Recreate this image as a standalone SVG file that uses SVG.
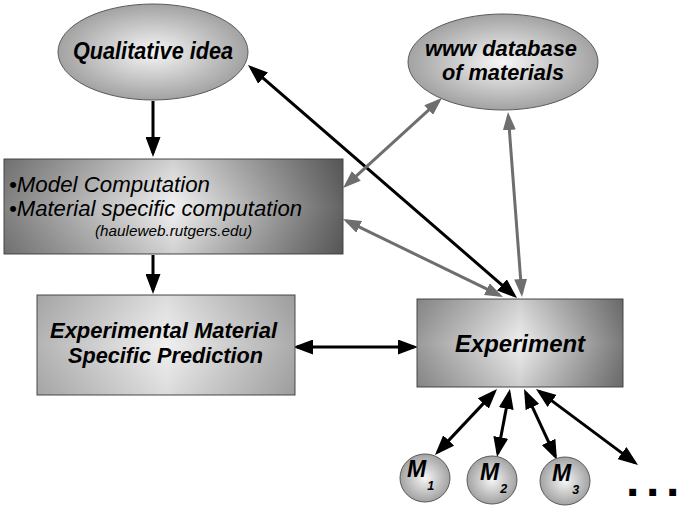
<svg xmlns="http://www.w3.org/2000/svg" width="680" height="513" viewBox="0 0 680 513">
  <defs>
    <style>
      .lbl { font-family: "Liberation Sans", Arial, sans-serif; font-weight: bold; font-style: italic; fill: #000; }
      .plain { font-family: "Liberation Sans", Arial, sans-serif; font-style: italic; fill: #000; }
      .oval { stroke: #5a5a5a; stroke-width: 1; }
      .box { stroke: #4a4a4a; stroke-width: 1; }
      .blk { fill: none; stroke: #000; stroke-width: 3; }
      .gry { fill: none; stroke: #6e6e6e; stroke-width: 3; }
    </style>
    <radialGradient id="ovalFill" cx="50%" cy="50%" r="55%">
      <stop offset="0" stop-color="#f6f6f6"/>
      <stop offset="1" stop-color="#9a9a9a"/>
    </radialGradient>
    <!-- side-to-side shading of the boxes -->
    <linearGradient id="darkBox" x1="0" y1="0" x2="1" y2="0">
      <stop offset="0" stop-color="#828282"/>
      <stop offset="0.5" stop-color="#f2f2f2"/>
      <stop offset="1" stop-color="#636363"/>
    </linearGradient>
    <linearGradient id="lightBox" x1="0" y1="0" x2="1" y2="0">
      <stop offset="0" stop-color="#b4b4b4"/>
      <stop offset="0.5" stop-color="#f0f0f0"/>
      <stop offset="1" stop-color="#ababab"/>
    </linearGradient>
    <linearGradient id="expBox" x1="0" y1="0" x2="1" y2="0">
      <stop offset="0" stop-color="#9a9a9a"/>
      <stop offset="0.5" stop-color="#eeeeee"/>
      <stop offset="1" stop-color="#7a7a7a"/>
    </linearGradient>
    <!-- top/bottom darkening laid over the boxes -->
    <linearGradient id="vShade" x1="0" y1="0" x2="0" y2="1">
      <stop offset="0" stop-color="#000" stop-opacity="0.14"/>
      <stop offset="0.5" stop-color="#000" stop-opacity="0"/>
      <stop offset="1" stop-color="#000" stop-opacity="0.14"/>
    </linearGradient>
    <marker id="headB" viewBox="0 0 20 15" refX="16" refY="7.5" markerWidth="20" markerHeight="15" markerUnits="userSpaceOnUse" orient="auto-start-reverse">
      <path d="M0,0 L20,7.5 L0,15 z" fill="#000"/>
    </marker>
    <marker id="headG" viewBox="0 0 18 13" refX="14" refY="6.5" markerWidth="18" markerHeight="13" markerUnits="userSpaceOnUse" orient="auto-start-reverse">
      <path d="M0,0 L18,6.5 L0,13 z" fill="#6e6e6e"/>
    </marker>
  </defs>

  <rect width="680" height="513" fill="#fff"/>

  <!-- connectors -->
  <g id="connectors">
    <path class="blk" d="M153,101 L153,153" marker-end="url(#headB)"/>
    <path class="blk" d="M153,255 L153,290" marker-end="url(#headB)"/>
    <path class="blk" d="M297,347 L414,347" marker-start="url(#headB)" marker-end="url(#headB)"/>
    <path class="blk" d="M251,67.6 L514,295.4" marker-start="url(#headB)" marker-end="url(#headB)"/>
    <path class="gry" d="M439,100.7 L346,185.3" marker-start="url(#headG)" marker-end="url(#headG)"/>
    <path class="gry" d="M346.6,220.8 L499.4,295.2" marker-start="url(#headG)" marker-end="url(#headG)"/>
    <path class="gry" d="M508.3,116 L521.7,293" marker-start="url(#headG)" marker-end="url(#headG)"/>
    <path class="blk" d="M494.3,391.9 L437.7,452.1" marker-start="url(#headB)" marker-end="url(#headB)"/>
    <path class="blk" d="M509.2,392.9 L497.8,453.1" marker-start="url(#headB)" marker-end="url(#headB)"/>
    <path class="blk" d="M525.7,392.6 L555.3,456.4" marker-start="url(#headB)" marker-end="url(#headB)"/>
    <path class="blk" d="M539.2,391.4 L634.8,462.6" marker-start="url(#headB)" marker-end="url(#headB)"/>
  </g>

  <g id="qualitative-idea">
    <ellipse class="oval" cx="153" cy="52" rx="95" ry="48" fill="url(#ovalFill)"/>
    <text class="lbl" x="73" y="59" font-size="23.5" textLength="160" lengthAdjust="spacingAndGlyphs">Qualitative idea</text>
  </g>

  <g id="www-database">
    <ellipse class="oval" cx="503" cy="62" rx="95" ry="48" fill="url(#ovalFill)"/>
    <text class="lbl" x="425" y="56" font-size="22" textLength="152" lengthAdjust="spacingAndGlyphs">www database</text>
    <text class="lbl" x="442" y="80" font-size="22" textLength="122" lengthAdjust="spacingAndGlyphs">of materials</text>
  </g>

  <g id="computation">
    <rect class="box" x="4" y="159" width="339" height="95" fill="url(#darkBox)"/>
    <rect x="4" y="159" width="339" height="95" fill="url(#vShade)"/>
    <text class="plain" x="9" y="192" font-size="22.5" textLength="201" lengthAdjust="spacingAndGlyphs">•Model Computation</text>
    <text class="plain" x="9" y="216" font-size="22.5" textLength="293" lengthAdjust="spacingAndGlyphs">•Material specific computation</text>
    <text class="plain" x="95" y="236" font-size="14.5" textLength="157" lengthAdjust="spacingAndGlyphs">(hauleweb.rutgers.edu)</text>
  </g>

  <g id="prediction">
    <rect class="box" x="37" y="295" width="258" height="100" fill="url(#lightBox)"/>
    <rect x="37" y="295" width="258" height="100" fill="url(#vShade)" opacity="0.6"/>
    <text class="lbl" x="50" y="338" font-size="21.5" textLength="227" lengthAdjust="spacingAndGlyphs">Experimental Material</text>
    <text class="lbl" x="68" y="363" font-size="21.5" textLength="195" lengthAdjust="spacingAndGlyphs">Specific Prediction</text>
  </g>

  <g id="experiment">
    <rect class="box" x="417" y="299" width="206" height="88" fill="url(#expBox)"/>
    <rect x="417" y="299" width="206" height="88" fill="url(#vShade)"/>
    <text class="lbl" x="455" y="352" font-size="23.5" textLength="130" lengthAdjust="spacingAndGlyphs">Experiment</text>
  </g>

  <g id="m1">
    <ellipse class="oval" cx="425" cy="478" rx="25" ry="24" fill="url(#ovalFill)"/>
    <text class="lbl" x="407" y="477" font-size="23">M<tspan font-size="12.5" dx="1" dy="13">1</tspan></text>
  </g>
  <g id="m2">
    <ellipse class="oval" cx="492" cy="480" rx="25" ry="24" fill="url(#ovalFill)"/>
    <text class="lbl" x="480" y="480" font-size="23">M<tspan font-size="12.5" dx="1" dy="13">2</tspan></text>
  </g>
  <g id="m3">
    <ellipse class="oval" cx="565" cy="481" rx="25" ry="24" fill="url(#ovalFill)"/>
    <text class="lbl" x="552" y="481" font-size="23">M<tspan font-size="12.5" dx="1" dy="13">3</tspan></text>
  </g>

  <g id="more">
    <text x="626 646 666" y="496" font-family="'Liberation Sans', Arial, sans-serif" font-weight="bold" font-size="48">...</text>
  </g>
</svg>
